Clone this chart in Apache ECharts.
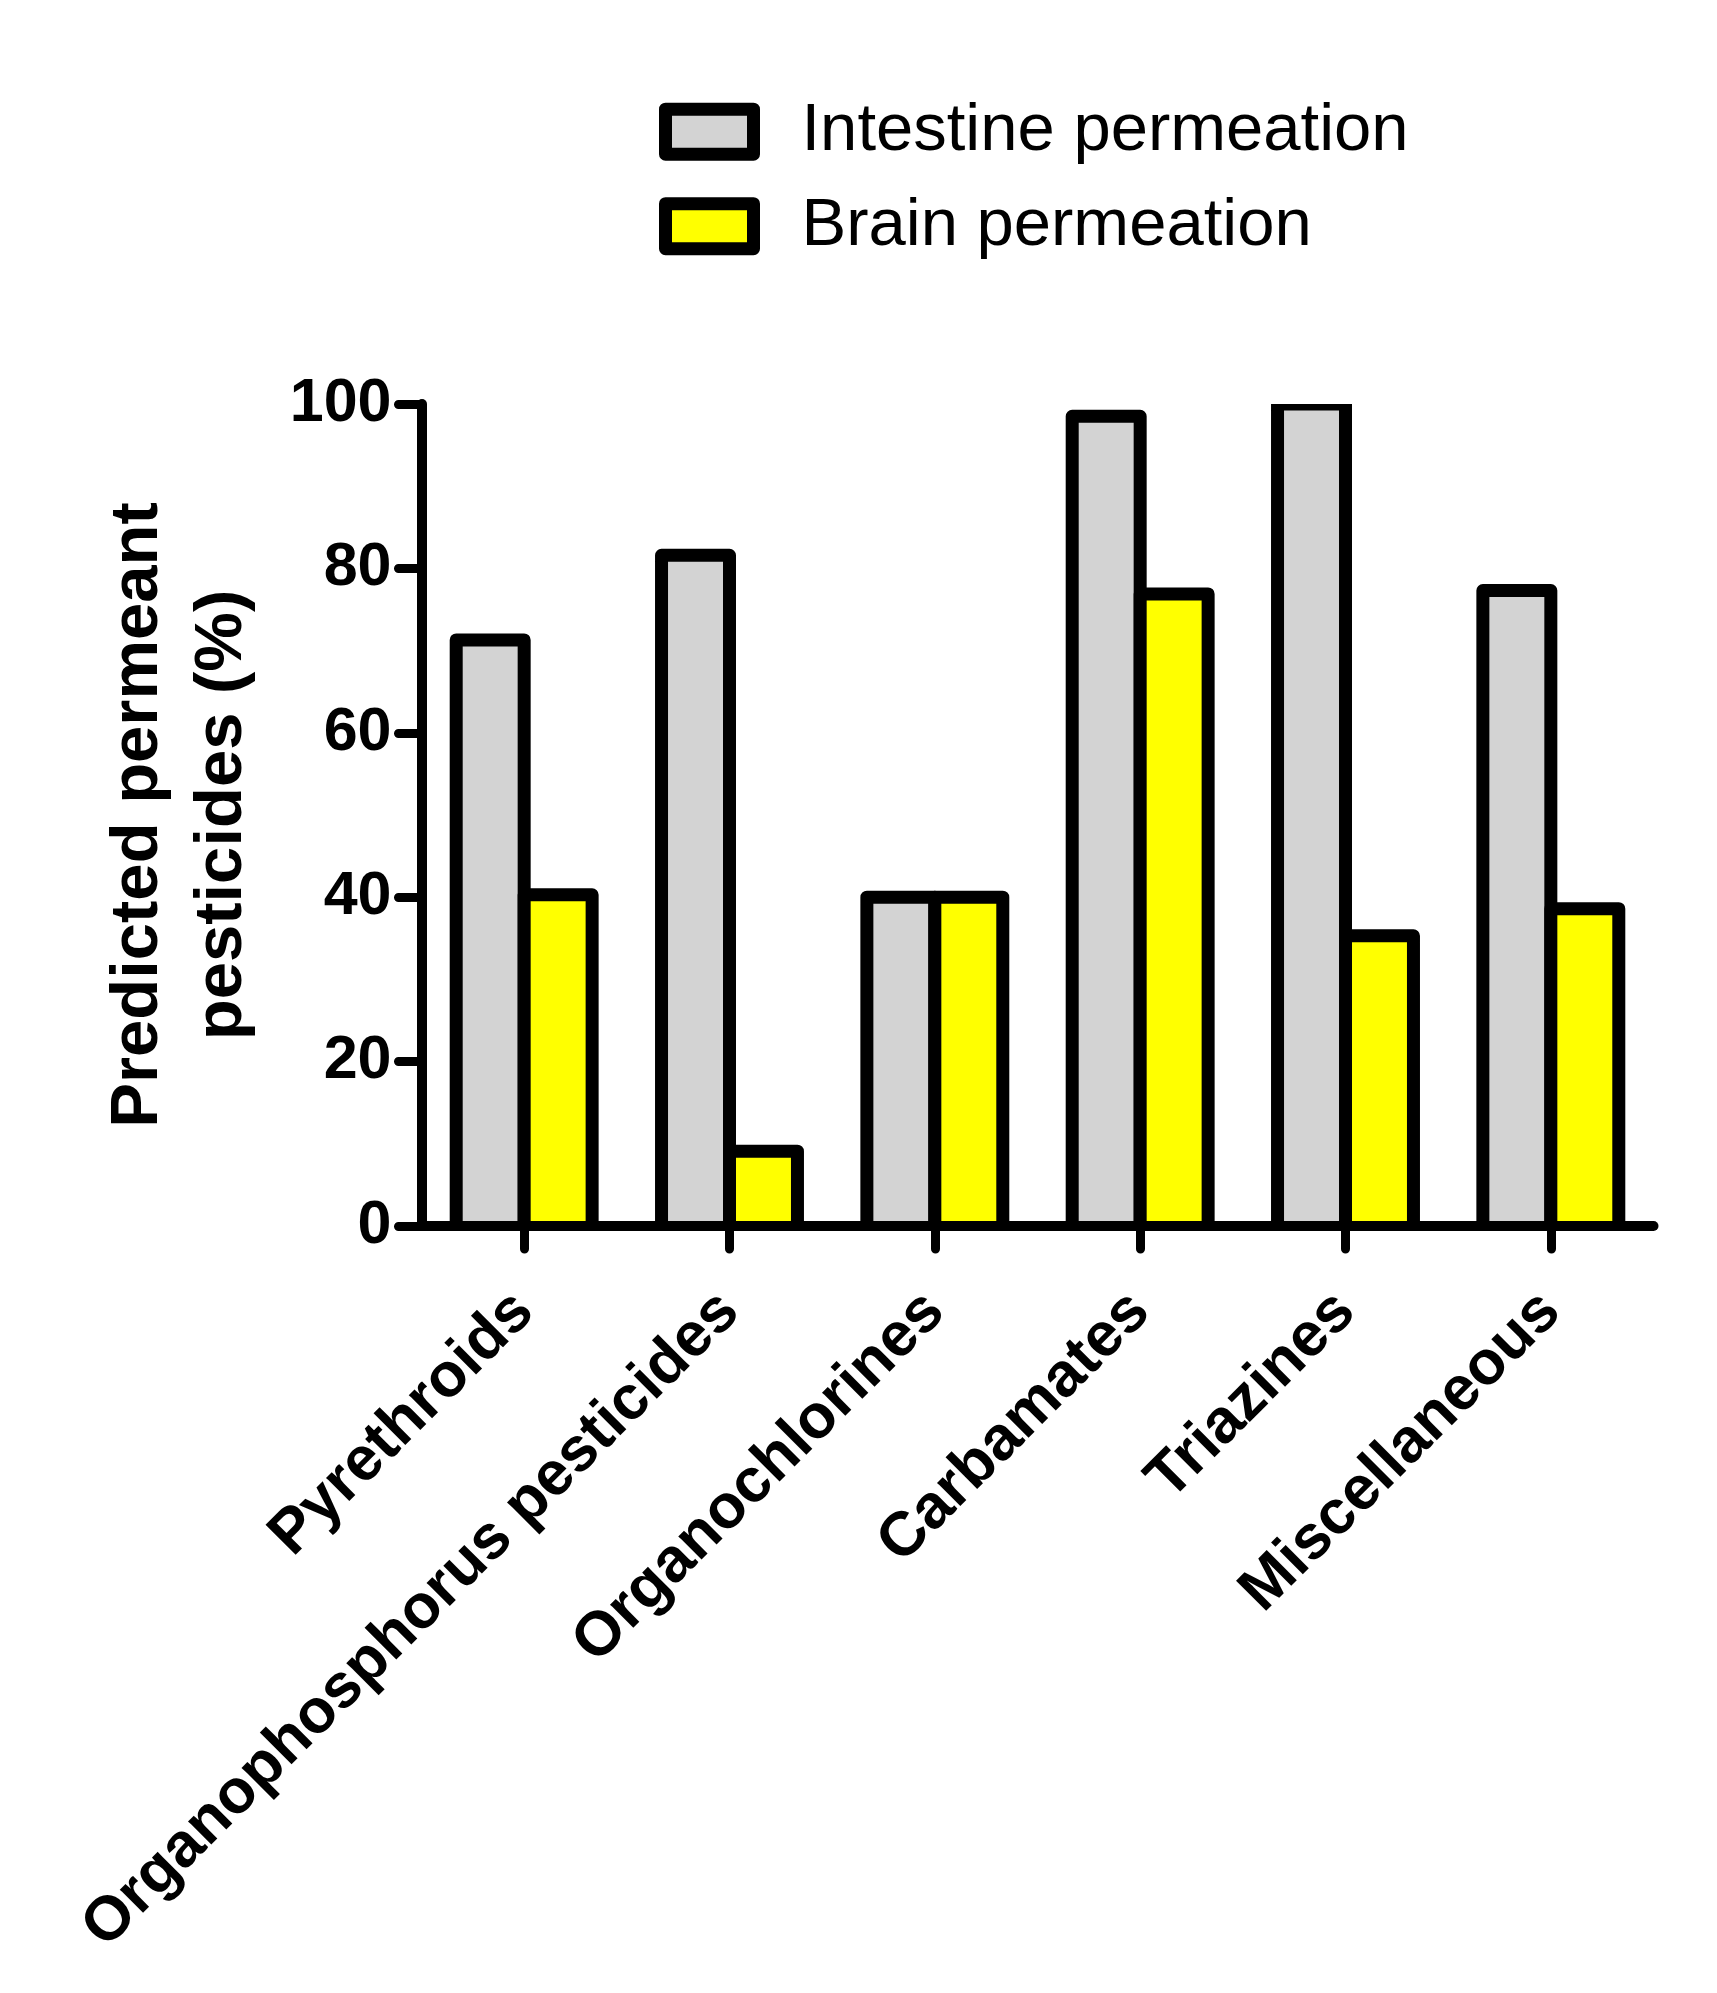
<!DOCTYPE html>
<html>
<head>
<meta charset="utf-8">
<script src="https://cdn.jsdelivr.net/npm/echarts@6/dist/echarts.min.js"></script>
<style>
html,body{margin:0;padding:0;background:#fff;}
#chart{width:1717px;height:1993px;}
</style>
</head>
<body>
<div id="chart"></div>
<script>
const categories = ['Pyrethroids', 'Organophosphorus pesticides', 'Organochlorines', 'Carbamates', 'Triazines', 'Miscellaneous'];
const intestine = [71.3, 81.6, 40.0, 98.5, 100.0, 77.3];
const brain = [40.3, 9.1, 40.0, 76.9, 35.3, 38.6];
const seriesNames = ['Intestine permeation', 'Brain permeation'];
const seriesColors = ['#d3d3d3', '#ffff00'];
const yTicks = { min: 0, max: 100, interval: 20 };
const yAxisTitle = 'Predicted permeant\npesticides (%)';

const FONT = '"Liberation Sans", Arial, Helvetica, sans-serif';
const BAR_RATIO = 0.331;   // bar width as share of category band
const BORDER = 13;

const chart = echarts.init(document.getElementById('chart'), null, { renderer: 'canvas' });

function barRenderer(side, fill) {
  return function (params, api) {
    const idx = api.value(0);
    const val = api.value(1);
    const base = api.coord([idx, 0]);
    const top = api.coord([idx, val]);
    const band = api.size([1, 0])[0];
    const w = band * BAR_RATIO;
    const x = side === 0 ? base[0] - w : base[0];
    return {
      type: 'group',
      children: [
        {
          type: 'rect',
          shape: { x: x, y: top[1], width: w, height: base[1] - top[1] },
          style: { fill: fill }
        },
        {
          type: 'polyline',
          shape: { points: [[x, base[1]], [x, top[1]], [x + w, top[1]], [x + w, base[1]]] },
          style: { fill: null, stroke: '#000', lineWidth: BORDER, lineJoin: 'round', lineCap: 'butt' }
        }
      ]
    };
  };
}

chart.setOption({
  animation: false,
  backgroundColor: '#fff',
  legend: {
    orient: 'vertical',
    left: 659,
    top: 89.7,
    padding: 0,
    itemGap: 10.5,
    itemWidth: 88,
    itemHeight: 45,
    icon: 'rect',
    selectedMode: false,
    itemStyle: { borderColor: '#000', borderWidth: BORDER, borderJoin: 'round' },
    textStyle: {
      fontFamily: FONT,
      fontSize: 67,
      color: '#000',
      lineHeight: 70,
      padding: [14, 0, 0, 43]
    },
    data: seriesNames
  },
  grid: {
    left: 421.5,
    top: 404,
    width: 1232,
    bottom: 767,
    containLabel: false
  },
  xAxis: {
    type: 'category',
    data: categories,
    boundaryGap: true,
    z: 10,
    axisLine: { show: true, lineStyle: { color: '#000', width: 10, cap: 'round' } },
    axisTick: { show: true, alignWithLabel: true, length: 23, lineStyle: { color: '#000', width: 9, cap: 'round' } },
    axisLabel: {
      interval: 0,
      rotate: 45,
      margin: 76,
      fontFamily: FONT,
      fontWeight: 'bold',
      fontSize: 62,
      color: '#000'
    },
    splitLine: { show: false }
  },
  yAxis: {
    type: 'value',
    min: yTicks.min,
    max: yTicks.max,
    interval: yTicks.interval,
    z: 10,
    name: yAxisTitle,
    nameLocation: 'middle',
    nameGap: 157,
    nameTextStyle: {
      fontFamily: FONT,
      fontWeight: 'bold',
      fontSize: 67,
      lineHeight: 84,
      color: '#000'
    },
    axisLine: { show: true, lineStyle: { color: '#000', width: 10, cap: 'round' } },
    axisTick: { show: true, length: 23, lineStyle: { color: '#000', width: 9, cap: 'round' } },
    axisLabel: {
      margin: 30,
      fontFamily: FONT,
      fontWeight: 'bold',
      fontSize: 61,
      color: '#000'
    },
    splitLine: { show: false }
  },
  series: [
    {
      name: seriesNames[0],
      type: 'custom',
      clip: true,
      itemStyle: { color: seriesColors[0] },
      encode: { x: 0, y: 1 },
      data: intestine.map((v, i) => [i, v]),
      renderItem: barRenderer(0, seriesColors[0])
    },
    {
      name: seriesNames[1],
      type: 'custom',
      clip: true,
      itemStyle: { color: seriesColors[1] },
      encode: { x: 0, y: 1 },
      data: brain.map((v, i) => [i, v]),
      renderItem: barRenderer(1, seriesColors[1])
    }
  ]
});
</script>
</body>
</html>
